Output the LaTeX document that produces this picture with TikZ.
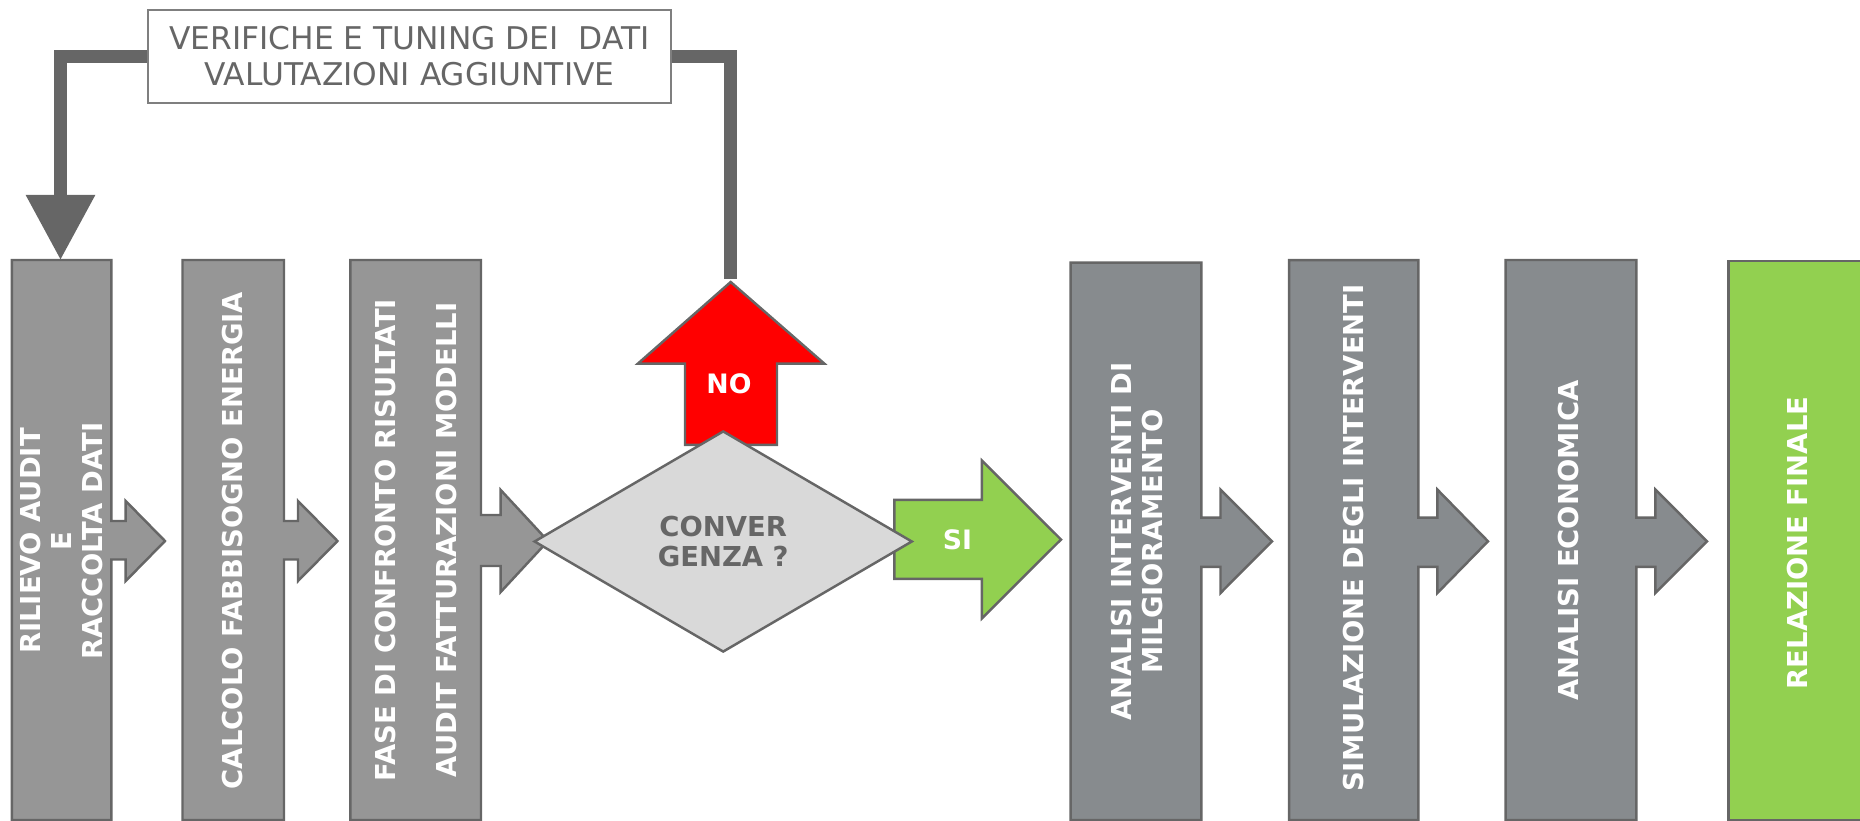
\documentclass[tikz,border=0pt]{standalone}
\usepackage{fontspec}
\setmainfont{DejaVu Sans}
\usetikzlibrary{arrows.meta,shapes.geometric}

\definecolor{boxgrey}{HTML}{969696}
\definecolor{boxslate}{HTML}{878B8E}
\definecolor{edgegrey}{HTML}{666666}
\definecolor{framegrey}{HTML}{7F7F7F}
\definecolor{okgreen}{HTML}{92D050}
\definecolor{nored}{HTML}{FF0000}
\definecolor{diamondgrey}{HTML}{D9D9D9}

\tikzset{
  block/.style={draw=edgegrey, line width=0.7pt, line join=miter},
  steptext/.style={rotate=90, text=white, align=center, inner sep=0pt,
    font=\bfseries\fontsize{7.8}{8.8}\selectfont},
  notebox/.style={draw=framegrey, line width=0.6pt, fill=white, align=center,
    minimum width=5.23cm, minimum height=0.927cm, inner sep=0pt, text=edgegrey,
    font=\fontsize{8.9}{10.4}\selectfont},
  decision/.style={diamond, draw=edgegrey, fill=diamondgrey, line width=0.7pt,
    minimum width=3.78cm, minimum height=2.21cm, inner sep=0pt, align=center,
    text=edgegrey, font=\bfseries\fontsize{7.8}{8.8}\selectfont},
  answer/.style={text=white, inner sep=0pt, font=\bfseries\fontsize{7.6}{8.8}\selectfont},
  feedback/.style={draw=edgegrey, line width=3.6pt},
}

\begin{document}
\begin{tikzpicture}[x=0.01cm, y=-0.01cm]
    \useasboundingbox (0,0) rectangle (1860,821);
    % first three steps
    \draw [block, fill=boxgrey] (11.8,260) -- (111.4,260) -- (111.4,521) -- (125.7,521) -- (125.7,501) -- (165,541) -- (125.7,581) -- (125.7,559.5) -- (111.4,559.5) -- (111.4,820) -- (11.8,820) -- cycle;
    \draw [block, fill=boxgrey] (182.5,260) -- (284,260) -- (284,521) -- (298,521) -- (298,501) -- (337.5,541) -- (298,581) -- (298,559.5) -- (284,559.5) -- (284,820) -- (182.5,820) -- cycle;
    \draw [block, fill=boxgrey] (350.4,260) -- (481,260) -- (481,515) -- (500.7,515) -- (500.7,490) -- (548,541) -- (500.7,592) -- (500.7,566) -- (481,566) -- (481,820) -- (350.4,820) -- cycle;
    \node [steptext] (rilievo) at (61.6,541) {RILIEVO AUDIT\\E\\RACCOLTA DATI};
    \node [steptext] (calcolo) at (233,540.5) {CALCOLO FABBISOGNO ENERGIA};
    \node [steptext] (confronto) at (416,540) {FASE DI CONFRONTO RISULTATI\\[8.5pt]AUDIT FATTURAZIONI MODELLI};
    % no / si
    \draw [block, fill=nored] (685,444.8) -- (685,363.6) -- (637.9,363.6) -- (730.7,282) -- (824.3,363.6) -- (777,363.6) -- (777,444.8) -- cycle;
    \draw [block, fill=okgreen] (894.3,499.8) -- (981.8,499.8) -- (981.8,460.5) -- (1061,539.5) -- (981.8,618.5) -- (981.8,578.8) -- (894.3,578.8) -- cycle;
    \node [decision] (convergenza) at (723.2,541.5) {CONVER\\GENZA ?};
    \node [answer] (no) at (729,384) {NO};
    \node [answer] (si) at (957.5,539.5) {SI};
    % last steps
    \draw [block, fill=boxslate] (1070.7,262.7) -- (1201.3,262.7) -- (1201.3,517.7) -- (1220.5,517.7) -- (1220.5,489.6) -- (1272,541.3) -- (1220.5,593) -- (1220.5,566.8) -- (1201.3,566.8) -- (1201.3,820) -- (1070.7,820) -- cycle;
    \draw [block, fill=boxslate] (1289.2,260.2) -- (1418.3,260.2) -- (1418.3,517.7) -- (1437.4,517.7) -- (1437.4,489.6) -- (1488,541.3) -- (1437.4,593) -- (1437.4,566.8) -- (1418.3,566.8) -- (1418.3,820) -- (1289.2,820) -- cycle;
    \draw [block, fill=boxslate] (1505.6,260) -- (1636.3,260) -- (1636.3,517.7) -- (1655.4,517.7) -- (1655.4,489.6) -- (1707,541.3) -- (1655.4,593) -- (1655.4,566.8) -- (1636.3,566.8) -- (1636.3,820) -- (1505.6,820) -- cycle;
    \draw [block, fill=okgreen] (1728.5,261) rectangle (1866,820);
    \node [steptext] (interventi) at (1137,541.5) {ANALISI INTERVENTI DI\\MILGIORAMENTO};
    \node [steptext] (simulazione) at (1354,538) {SIMULAZIONE DEGLI INTERVENTI};
    \node [steptext] (economica) at (1568,540.5) {ANALISI ECONOMICA};
    \node [steptext] (relazione) at (1797,543) {RELAZIONE FINALE};
    % feedback loop
    \node [notebox] (verifiche) at (409.5,56.3) {VERIFICHE E TUNING DEI~~DATI\\VALUTAZIONI AGGIUNTIVE};
    \coordinate (rilievotop) at (60.5,260);
    \coordinate (notop) at (730.5,279);
    \draw [feedback] (notop) |- (verifiche.east);
    \draw [feedback, -{Triangle[width=0.66cm,length=0.65cm]}] (verifiche.west) -| (rilievotop);
\end{tikzpicture}
\end{document}
